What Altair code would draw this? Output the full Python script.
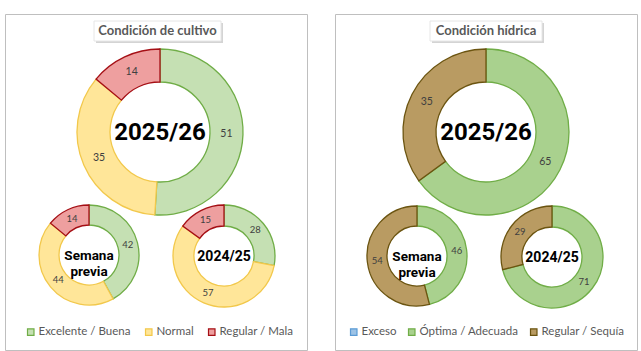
import altair as alt
import pandas as pd

# ---------------- data ----------------
donut_names = ["2025/26", "Semana previa", "2024/25"]

crop_title = "Condición de cultivo"
crop_cats = ["Excelente / Buena", "Normal", "Regular / Mala"]
crop_2526 = [51, 35, 14]
crop_prev = [42, 44, 14]
crop_2425 = [28, 57, 15]

water_title = "Condición hídrica"
water_cats = ["Exceso", "Óptima / Adecuada", "Regular / Sequía"]
water_2526 = [0, 65, 35]
water_prev = [0, 46, 54]
water_2425 = [0, 71, 29]

# ---------------- styles ----------------
crop_fills = ["#c5e0b3", "#ffe699", "#ee9f9f"]
crop_strokes = ["#70ad47", "#f2c84b", "#a50f15"]
water_fills = ["#9dc3e6", "#a9d18e", "#b99b62"]
water_strokes = ["#5b9bd5", "#70ad47", "#6b5410"]

PANEL_W, PANEL_H = 302, 336
# donut layout per panel: name -> (cx, cy, outer, inner, center font size)
crop_layout = {
    "2025/26": (155, 118, 83, 50, 24),
    "Semana previa": (84, 241, 50, 30, 13.5),
    "2024/25": (219, 242, 51, 30, 14),
}
water_layout = {
    "2025/26": (151, 118, 83, 50, 24),
    "Semana previa": (82, 242, 50, 30, 13.5),
    "2024/25": (217, 243, 51, 30, 14),
}


def panel(title, cats, series, fills, strokes, layout, title_box, legend_x, col_pad):
    rows = []
    for dname, vals in zip(donut_names, series):
        for i, (c, v) in enumerate(zip(cats, vals)):
            rows.append({"donut": dname, "cat": c, "value": v, "ord": i})
    df = pd.DataFrame(rows)
    base = alt.Chart(df)

    leg = alt.Legend(
        orient="none", legendX=legend_x, legendY=312, direction="horizontal",
        title=None, symbolType="square", symbolSize=42, symbolStrokeWidth=1.2,
        labelFontSize=11.5, labelColor="#595959", labelFont="Lato",
        columnPadding=col_pad, labelOffset=2, padding=0,
    )
    color = alt.Color("cat:N", scale=alt.Scale(domain=cats, range=fills), legend=leg)
    stroke = alt.Stroke("cat:N", scale=alt.Scale(domain=cats, range=strokes), legend=leg)
    theta = alt.Theta("value:Q", stack=True, scale=alt.Scale(domain=[0, 100]))

    x0, x1, y0, y1 = title_box
    tdf = pd.DataFrame({"t": [title]})
    layers = [
        alt.Chart(tdf).mark_rect(color="#d4d4d4").encode(
            x=alt.value(x0 + 2), x2=alt.value(x1 + 2), y=alt.value(y0 + 2), y2=alt.value(y1 + 2)),
        alt.Chart(tdf).mark_rect(color="white", stroke="#e6e6e6", strokeWidth=1).encode(
            x=alt.value(x0), x2=alt.value(x1), y=alt.value(y0), y2=alt.value(y1)),
        alt.Chart(tdf).mark_text(font="Lato", fontWeight="bold", fontSize=13, color="#595959").encode(
            text="t:N", x=alt.value((x0 + x1) / 2), y=alt.value((y0 + y1) / 2)),
    ]

    for dname in donut_names:
        cx, cy, ro, ri, fs = layout[dname]
        sub = base.transform_filter(alt.datum.donut == dname).transform_filter(alt.datum.value > 0)
        arc = sub.mark_arc(outerRadius=ro, innerRadius=ri, strokeWidth=1.3).encode(
            theta=theta, order=alt.Order("ord:Q"), color=color, stroke=stroke,
            x=alt.value(cx), y=alt.value(cy))
        lbl = sub.mark_text(radius=(ro + ri) / 2, fontSize=10.5 if ro > 60 else 9.5,
                            font="Lato", color="#404040").encode(
            theta=theta, order=alt.Order("ord:Q"), text="value:Q",
            x=alt.value(cx), y=alt.value(cy))
        ctr = alt.Chart(pd.DataFrame({"name": [dname]})).mark_text(
            font="Roboto", fontWeight="bold", fontSize=fs, color="black",
            lineBreak=" ", lineHeight=fs * 1.15).encode(
            text="name:N", x=alt.value(cx), y=alt.value(cy + 1))
        layers += [arc, lbl, ctr]

    return alt.layer(*layers).properties(width=PANEL_W, height=PANEL_H)


left = panel(crop_title, crop_cats, [crop_2526, crop_prev, crop_2425],
             crop_fills, crop_strokes, crop_layout, (89, 216, 7, 27), 20, 12)
right = panel(water_title, water_cats, [water_2526, water_prev, water_2425],
              water_fills, water_strokes, water_layout, (95, 207, 7, 27), 13, 9)

chart = (
    alt.hconcat(left, right, spacing=26)
    .resolve_scale(color="independent", stroke="independent", theta="independent")
    .configure_view(stroke="#bfbfbf", strokeWidth=1)
    .properties(padding={"left": 4, "top": 13, "right": 0, "bottom": 0}, background="white")
)

chart.save("out.html", embed_options={"renderer": "svg", "actions": False})
